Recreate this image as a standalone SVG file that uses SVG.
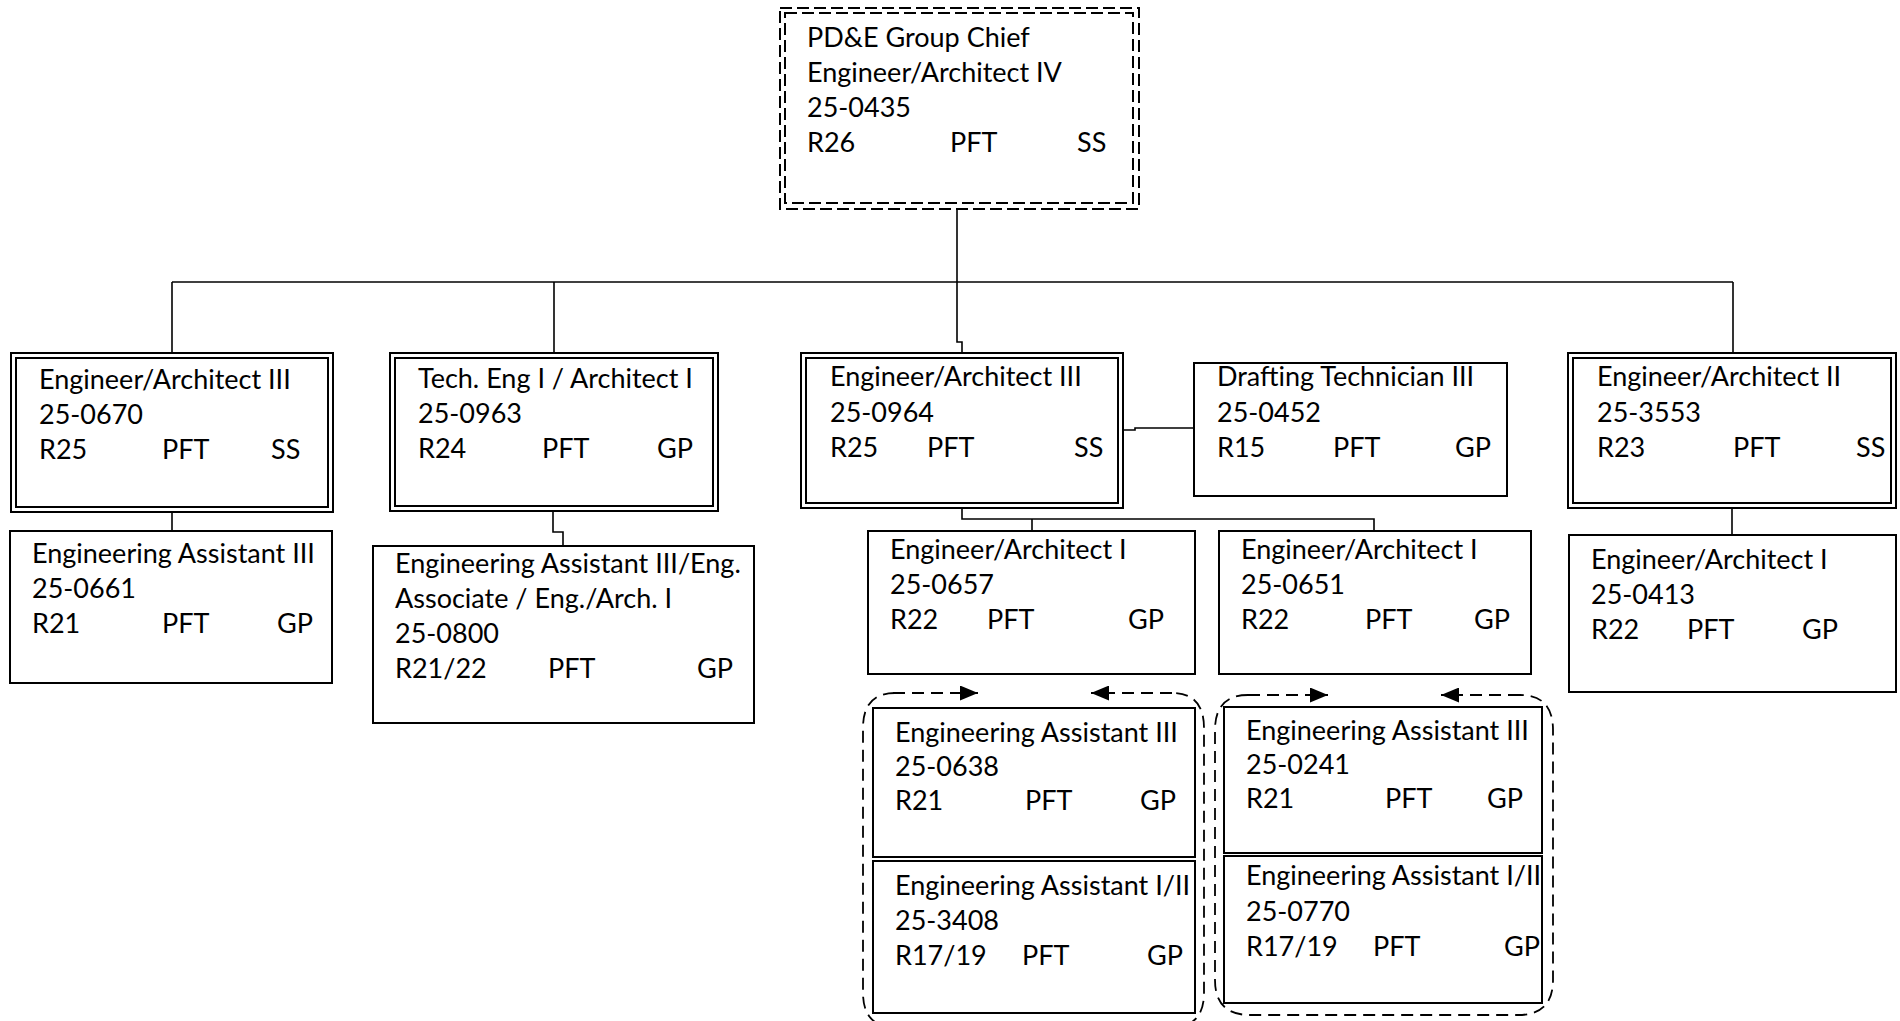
<svg xmlns="http://www.w3.org/2000/svg" width="1900" height="1021" viewBox="0 0 1900 1021">
<style>
.bg{fill:#fff}
.box{fill:#fff;stroke:#000;stroke-width:2}
.in{fill:none;stroke:#000;stroke-width:2}
.dash{fill:none;stroke:#000;stroke-width:2;stroke-dasharray:12 5}
.ln{fill:none;stroke:#000;stroke-width:1.6}
.grp{fill:none;stroke:#000;stroke-width:1.8;stroke-dasharray:12 7}
.t{font-family:Lato,"Liberation Sans",sans-serif;font-size:27px;fill:#000}
</style>
<defs>
<marker id="ah" viewBox="0 0 10 10" refX="10" refY="5" markerWidth="18" markerHeight="15" markerUnits="userSpaceOnUse" orient="auto" preserveAspectRatio="none">
<path d="M0,0 L10,5 L0,10 z" fill="#000"/>
</marker>
</defs>
<rect class="bg" x="0" y="0" width="1900" height="1021"/>

<g id="connectors">
<path class="ln" d="M957,209 V282" stroke-width="2.4"/>
<path class="ln" d="M172,282 H1733"/>
<path class="ln" d="M172,282 V353"/>
<path class="ln" d="M554,282 V353"/>
<path class="ln" d="M1733,282 V353"/>
<path class="ln" d="M957,282 V342 H962 V353"/>
<path class="ln" d="M172,512 V531"/>
<path class="ln" d="M553,511 V532 H563 V546"/>
<path class="ln" d="M1732,508 V535"/>
<path class="ln" d="M1123,430 H1135 V428 H1194"/>
<path class="ln" d="M962,508 V519 H1374 V531"/>
<path class="ln" d="M1032,519 V531"/>
<path class="grp" d="M893,693 H978" marker-end="url(#ah)"/>
<path class="grp" d="M1172,693 H1091" marker-end="url(#ah)"/>
<path class="grp" d="M1248,695 H1328" marker-end="url(#ah)"/>
<path class="grp" d="M1520,695 H1441" marker-end="url(#ah)"/>
</g>

<g id="group-left">
<path class="grp" d="M895,693 Q863,693 863,728 V993 Q863,1028 898,1028 H1169 Q1204,1028 1204,993 V728 Q1204,693 1172,693"/>
</g>
<g id="group-right">
<path class="grp" d="M1248,695 Q1215,695 1215,730 V980 Q1215,1015 1250,1015 H1518 Q1553,1015 1553,980 V730 Q1553,695 1520,695"/>
</g>

<g id="n-chief">
<rect x="780" y="8" width="359" height="201" fill="#fff" class="dash"/>
<rect x="785" y="13" width="348" height="190" class="dash"/>
<text class="t" x="807" y="47">PD&amp;E Group Chief</text>
<text class="t" x="807" y="82">Engineer/Architect IV</text>
<text class="t" x="807" y="117">25-0435</text>
<text class="t" x="807" y="152">R26</text>
<text class="t" x="950" y="152">PFT</text>
<text class="t" x="1077" y="152">SS</text>
</g>

<g id="n-0670">
<rect class="box" x="11" y="353" width="322" height="159"/>
<rect class="in" x="16" y="358" width="312" height="149"/>
<text class="t" x="39" y="389">Engineer/Architect III</text>
<text class="t" x="39" y="424">25-0670</text>
<text class="t" x="39" y="459">R25</text>
<text class="t" x="162" y="459">PFT</text>
<text class="t" x="271" y="459">SS</text>
</g>

<g id="n-0661">
<rect class="box" x="10" y="531" width="322" height="152"/>
<text class="t" x="32" y="563">Engineering Assistant III</text>
<text class="t" x="32" y="598">25-0661</text>
<text class="t" x="32" y="633">R21</text>
<text class="t" x="162" y="633">PFT</text>
<text class="t" x="277" y="633">GP</text>
</g>

<g id="n-0963">
<rect class="box" x="390" y="353" width="328" height="158"/>
<rect class="in" x="395" y="358" width="318" height="148"/>
<text class="t" x="418" y="388">Tech. Eng I / Architect I</text>
<text class="t" x="418" y="423">25-0963</text>
<text class="t" x="418" y="458">R24</text>
<text class="t" x="542" y="458">PFT</text>
<text class="t" x="657" y="458">GP</text>
</g>

<g id="n-0800">
<rect class="box" x="373" y="546" width="381" height="177"/>
<text class="t" x="395" y="573">Engineering Assistant III/Eng.</text>
<text class="t" x="395" y="608">Associate / Eng./Arch. I</text>
<text class="t" x="395" y="643">25-0800</text>
<text class="t" x="395" y="678">R21/22</text>
<text class="t" x="548" y="678">PFT</text>
<text class="t" x="697" y="678">GP</text>
</g>

<g id="n-0964">
<rect class="box" x="801" y="353" width="322" height="155"/>
<rect class="in" x="806" y="358" width="312" height="145"/>
<text class="t" x="830" y="386">Engineer/Architect III</text>
<text class="t" x="830" y="422">25-0964</text>
<text class="t" x="830" y="457">R25</text>
<text class="t" x="927" y="457">PFT</text>
<text class="t" x="1074" y="457">SS</text>
</g>

<g id="n-0452">
<rect class="box" x="1194" y="363" width="313" height="133"/>
<text class="t" x="1217" y="386">Drafting Technician III</text>
<text class="t" x="1217" y="422">25-0452</text>
<text class="t" x="1217" y="457">R15</text>
<text class="t" x="1333" y="457">PFT</text>
<text class="t" x="1455" y="457">GP</text>
</g>

<g id="n-3553">
<rect class="box" x="1568" y="353" width="328" height="155"/>
<rect class="in" x="1573" y="358" width="318" height="145"/>
<text class="t" x="1597" y="386">Engineer/Architect II</text>
<text class="t" x="1597" y="422">25-3553</text>
<text class="t" x="1597" y="457">R23</text>
<text class="t" x="1733" y="457">PFT</text>
<text class="t" x="1856" y="457">SS</text>
</g>

<g id="n-0413">
<rect class="box" x="1569" y="535" width="327" height="157"/>
<text class="t" x="1591" y="569">Engineer/Architect I</text>
<text class="t" x="1591" y="604">25-0413</text>
<text class="t" x="1591" y="639">R22</text>
<text class="t" x="1687" y="639">PFT</text>
<text class="t" x="1802" y="639">GP</text>
</g>

<g id="n-0657">
<rect class="box" x="868" y="531" width="327" height="143"/>
<text class="t" x="890" y="559">Engineer/Architect I</text>
<text class="t" x="890" y="594">25-0657</text>
<text class="t" x="890" y="629">R22</text>
<text class="t" x="987" y="629">PFT</text>
<text class="t" x="1128" y="629">GP</text>
</g>

<g id="n-0651">
<rect class="box" x="1219" y="531" width="312" height="143"/>
<text class="t" x="1241" y="559">Engineer/Architect I</text>
<text class="t" x="1241" y="594">25-0651</text>
<text class="t" x="1241" y="629">R22</text>
<text class="t" x="1365" y="629">PFT</text>
<text class="t" x="1474" y="629">GP</text>
</g>

<g id="n-0638">
<rect class="box" x="873" y="708" width="322" height="149"/>
<text class="t" x="895" y="742">Engineering Assistant III</text>
<text class="t" x="895" y="776">25-0638</text>
<text class="t" x="895" y="810">R21</text>
<text class="t" x="1025" y="810">PFT</text>
<text class="t" x="1140" y="810">GP</text>
</g>

<g id="n-3408">
<rect class="box" x="873" y="861" width="322" height="152"/>
<text class="t" x="895" y="895">Engineering Assistant I/II</text>
<text class="t" x="895" y="930">25-3408</text>
<text class="t" x="895" y="965">R17/19</text>
<text class="t" x="1022" y="965">PFT</text>
<text class="t" x="1147" y="965">GP</text>
</g>

<g id="n-0241">
<rect class="box" x="1224" y="707" width="318" height="146"/>
<text class="t" x="1246" y="740">Engineering Assistant III</text>
<text class="t" x="1246" y="774">25-0241</text>
<text class="t" x="1246" y="808">R21</text>
<text class="t" x="1385" y="808">PFT</text>
<text class="t" x="1487" y="808">GP</text>
</g>

<g id="n-0770">
<rect class="box" x="1224" y="856" width="318" height="147"/>
<text class="t" x="1246" y="885">Engineering Assistant I/II</text>
<text class="t" x="1246" y="921">25-0770</text>
<text class="t" x="1246" y="956">R17/19</text>
<text class="t" x="1373" y="956">PFT</text>
<text class="t" x="1504" y="956">GP</text>
</g>
</svg>
